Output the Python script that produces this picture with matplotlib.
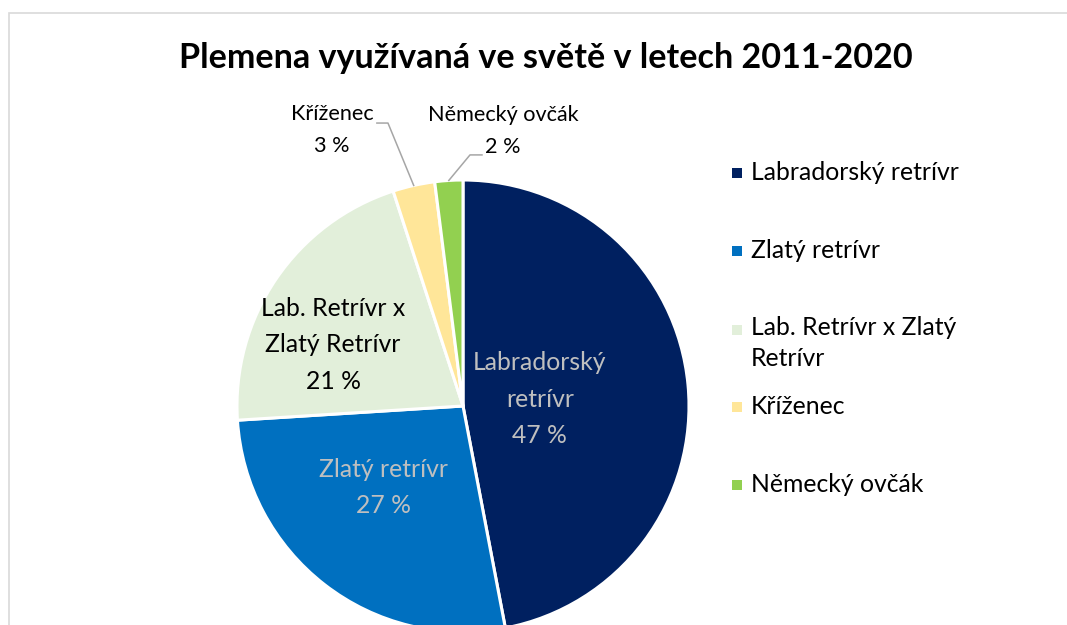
import matplotlib
matplotlib.use("Agg")
import matplotlib.pyplot as plt
from matplotlib.patches import Rectangle
import numpy as np

plt.rcParams['font.family'] = ['Lato', 'DejaVu Sans']

# data
plemena = ['Labradorský retrívr', 'Zlatý retrívr', 'Lab. Retrívr x Zlatý Retrívr',
           'Kříženec', 'Německý ovčák']
podily = [47, 27, 21, 3, 2]
barvy = ['#002060', '#0070C0', '#E2EFDA', '#FFE699', '#92D050']
legenda_text = ['Labradorský retrívr', 'Zlatý retrívr', 'Lab. Retrívr x Zlatý\nRetrívr',
                'Kříženec', 'Německý ovčák']
popisky = ['Labradorský\nretrívr', 'Zlatý retrívr', 'Lab. Retrívr x\nZlatý Retrívr',
           'Kříženec', 'Německý ovčák']

W, H = 1067, 625
fig = plt.figure(figsize=(W / 100, H / 100), dpi=100)

# ramecek grafu
fig.patches.append(Rectangle((9 / W, -0.1), 1.2, 1 - 13 / H + 0.1, transform=fig.transFigure,
                             fill=False, edgecolor='#D9D9D9', linewidth=1.2))

fig.text(546 / W, 1 - 58 / H, 'Plemena využívaná ve světě v letech 2011-2020',
         ha='center', va='center', fontsize=24.6, fontweight='bold')

# kolac
cx, cy, r = 463, 406, 226
ax = fig.add_axes([(cx - r) / W, (H - cy - r) / H, 2 * r / W, 2 * r / H])
wedges, _ = ax.pie(podily, colors=barvy, startangle=90, counterclock=False,
                   wedgeprops=dict(edgecolor='white', linewidth=2.2))
ax.set_xlim(-1, 1)
ax.set_ylim(-1, 1)
ax.axis('off')

# popisky uvnitr
vnitrni = {0: (0.34, 0.03, '#BFBFBF'), 1: (-0.35, -0.36, '#BFBFBF'), 2: (-0.575, 0.27, 'black')}
for i, (x, y, c) in vnitrni.items():
    ax.text(x, y, f'{popisky[i]}\n{podily[i]} %', ha='center', va='center', color=c,
            fontsize=17.8, linespacing=1.72)

# popisky venku s vodicimi carami
vnejsi = {3: ((-0.58, 1.22), (-0.332, 1.252), (-0.381, 1.252)),
          4: ((0.177, 1.215), (0.031, 1.111), (0.084, 1.111))}
for i, (txt, koleno, konec) in vnejsi.items():
    ax.text(txt[0], txt[1], f'{popisky[i]}\n{podily[i]} %', ha='center', va='center',
            fontsize=15.6, linespacing=1.76, clip_on=False)
    stred = (sum(podily[:i]) + podily[i] / 2) / sum(podily) * 2 * np.pi
    bod = (np.sin(stred), np.cos(stred))
    ax.plot([bod[0], koleno[0], konec[0]], [bod[1], koleno[1], konec[1]],
            color='#A6A6A6', linewidth=1.1, clip_on=False)

# legenda
leg_y = [173, 251, 330, 407, 485]
for lbl, c, y in zip(legenda_text, barvy, leg_y):
    fig.patches.append(Rectangle((732 / W, 1 - (y + 5) / H), 10 / W, 10 / H,
                                 transform=fig.transFigure, facecolor=c, edgecolor='none'))
    if '\n' in lbl:
        fig.text(751 / W, 1 - (y + 13) / H, lbl, ha='left', va='center', fontsize=17.8,
                 linespacing=1.38)
    else:
        fig.text(751 / W, 1 - y / H, lbl, ha='left', va='center', fontsize=17.8)

fig.savefig('out.png', dpi=100)
